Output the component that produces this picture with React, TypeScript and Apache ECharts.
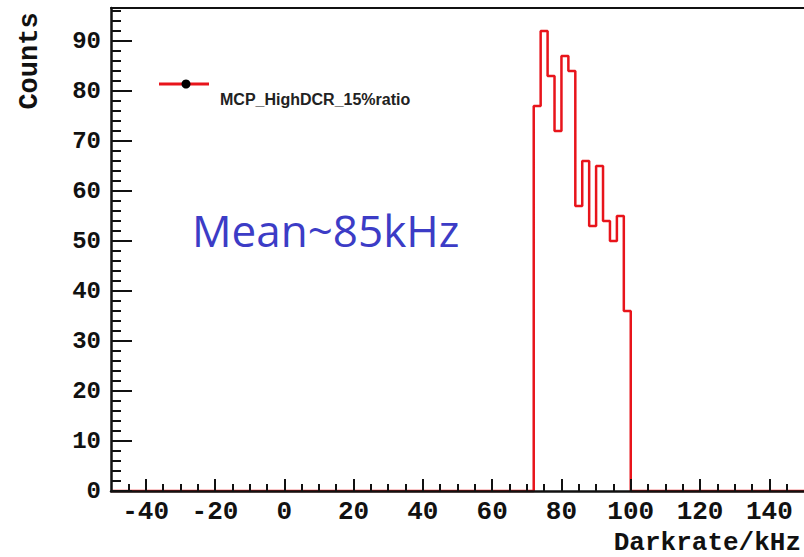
import React, { useEffect, useRef } from 'react';
import * as echarts from 'echarts';

// ---- data ----
const binStart = 72;
const binWidth = 2;
const counts = [77, 92, 83, 72, 87, 84, 57, 66, 53, 65, 54, 50, 55, 36];
const xMin = -50;
const xMax = 150;
const yMin = 0;
const yMax = 96.6;
const xMajorTicks = [-40, -20, 0, 20, 40, 60, 80, 100, 120, 140];
const yMajorTicks = [0, 10, 20, 30, 40, 50, 60, 70, 80, 90];
const seriesName = 'MCP_HighDCR_15%ratio';
const annotation = 'Mean~85kHz';
const xTitle = 'Darkrate/kHz';
const yTitle = 'Counts';

const xMinorTicks: number[] = [];
for (let v = -45; v < xMax; v += 5) if (v % 20 !== 0) xMinorTicks.push(v);
const yMinorTicks: number[] = [];
for (let v = 2; v < yMax; v += 2) if (v % 10 !== 0) yMinorTicks.push(v);

const histData: number[][] = [
  [xMin, 0],
  ...counts.map((c, i) => [binStart + i * binWidth, c]),
  [binStart + counts.length * binWidth, 0],
  [xMax, 0],
];

const GRID = { left: 111, right: 0, top: 8, bottom: 66 };
const MONO = 'Liberation Mono';
const AXIS_COLOR = '#111';
const RED = '#e8141b';

export default function App() {
  const ref = useRef<HTMLDivElement>(null);
  useEffect(() => {
    if (!ref.current) return;
    const chart = echarts.init(ref.current, undefined, { renderer: 'svg' });
    chart.setOption({
      animation: false,
      backgroundColor: '#fff',
      grid: [
        { ...GRID },
        { ...GRID },
      ],
      xAxis: [
        {
          gridIndex: 0,
          type: 'value',
          min: xMin,
          max: xMax,
          position: 'bottom',
          z: 5,
          axisLine: { show: true, onZero: false, lineStyle: { color: AXIS_COLOR, width: 2.5 } },
          axisTick: { show: true, inside: true, length: 12, customValues: xMajorTicks, lineStyle: { color: AXIS_COLOR, width: 2 } },
          axisLabel: {
            show: true,
            customValues: xMajorTicks,
            margin: 8,
            fontFamily: MONO,
            fontWeight: 'bold',
            fontSize: 26,
            color: AXIS_COLOR,
          },
          splitLine: { show: false },
        },
        {
          gridIndex: 1,
          type: 'value',
          min: xMin,
          max: xMax,
          position: 'bottom',
          z: 5,
          axisLine: { show: false, onZero: false },
          axisTick: { show: true, inside: true, length: 7, customValues: xMinorTicks, lineStyle: { color: AXIS_COLOR, width: 2 } },
          axisLabel: { show: false },
          splitLine: { show: false },
        },
        {
          gridIndex: 1,
          type: 'value',
          min: xMin,
          max: xMax,
          position: 'top',
          z: 5,
          axisLine: { show: true, onZero: false, lineStyle: { color: AXIS_COLOR, width: 2 } },
          axisTick: { show: false },
          axisLabel: { show: false },
          splitLine: { show: false },
        },
      ],
      yAxis: [
        {
          gridIndex: 0,
          type: 'value',
          min: yMin,
          max: yMax,
          position: 'left',
          z: 5,
          axisLine: { show: true, onZero: false, lineStyle: { color: AXIS_COLOR, width: 2.5 } },
          axisTick: { show: true, inside: true, length: 21, customValues: yMajorTicks, lineStyle: { color: AXIS_COLOR, width: 2 } },
          axisLabel: {
            show: true,
            customValues: yMajorTicks,
            margin: 10,
            fontFamily: MONO,
            fontWeight: 'bold',
            fontSize: 24,
            color: AXIS_COLOR,
          },
          splitLine: { show: false },
        },
        {
          gridIndex: 1,
          type: 'value',
          min: yMin,
          max: yMax,
          position: 'left',
          z: 5,
          axisLine: { show: false, onZero: false },
          axisTick: { show: true, inside: true, length: 10, customValues: yMinorTicks, lineStyle: { color: AXIS_COLOR, width: 2 } },
          axisLabel: { show: false },
          splitLine: { show: false },
        },
      ],
      series: [
        {
          name: seriesName,
          type: 'line',
          xAxisIndex: 0,
          yAxisIndex: 0,
          step: 'end',
          symbol: 'none',
          clip: false,
          z: 2,
          lineStyle: { color: RED, width: 2.5 },
          data: histData,
        },
      ],
      graphic: [
        {
          type: 'text',
          x: 30,
          y: 61,
          rotation: Math.PI / 2,
          style: {
            text: yTitle,
            fontFamily: MONO,
            fontWeight: 'bold',
            fontSize: 27,
            fill: AXIS_COLOR,
            align: 'center',
            verticalAlign: 'middle',
          },
        },
        {
          type: 'text',
          x: 801,
          y: 543,
          style: {
            text: xTitle,
            fontFamily: MONO,
            fontWeight: 'bold',
            fontSize: 26,
            fill: AXIS_COLOR,
            align: 'right',
            verticalAlign: 'middle',
          },
        },
        {
          type: 'line',
          shape: { x1: 159, y1: 84, x2: 209, y2: 84 },
          style: { stroke: RED, lineWidth: 3 },
        },
        {
          type: 'circle',
          shape: { cx: 186, cy: 84, r: 4.5 },
          style: { fill: '#000' },
        },
        {
          type: 'text',
          x: 220,
          y: 99,
          style: {
            text: seriesName,
            fontFamily: 'Liberation Sans',
            fontWeight: 'bold',
            fontSize: 16,
            fill: '#222',
            align: 'left',
            verticalAlign: 'middle',
          },
        },
        {
          type: 'text',
          x: 192,
          y: 230,
          style: {
            text: annotation,
            fontFamily: 'Open Sans',
            fontSize: 44,
            fill: '#3c3cc6',
            align: 'left',
            verticalAlign: 'middle',
          },
        },
      ],
    });
    return () => chart.dispose();
  }, []);
  return (
    <div
      ref={ref}
      style={{ position: 'fixed', left: 0, top: 0, width: 804, height: 557, background: '#fff' }}
    />
  );
}
